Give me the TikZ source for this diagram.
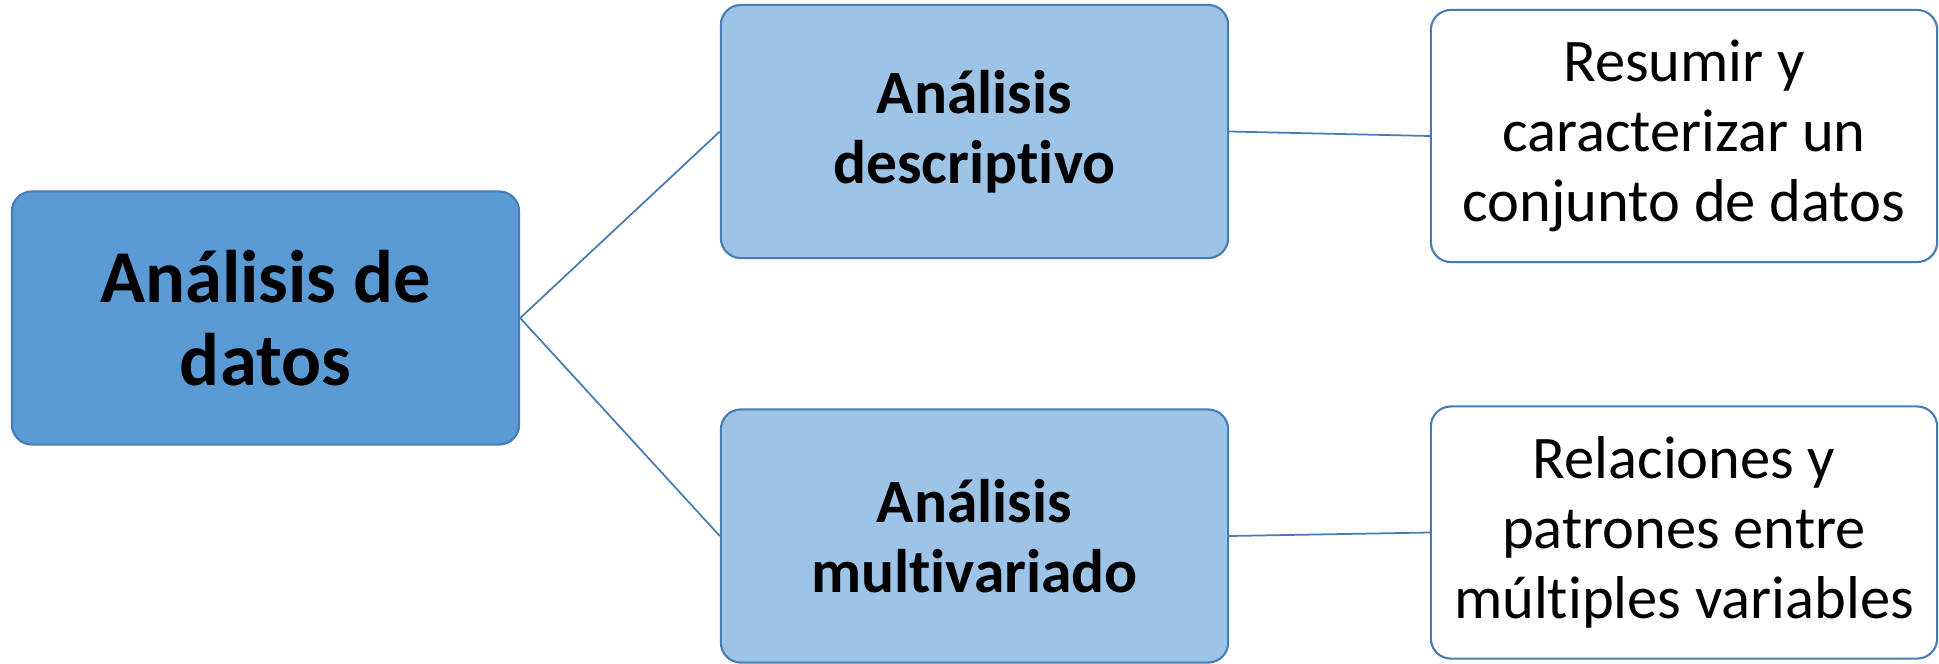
\documentclass[tikz,border=0pt]{standalone}
\usepackage{fontspec}
\setmainfont[Ligatures=NoCommon]{Carlito}
\definecolor{rootblue}{RGB}{91,155,213}
\definecolor{midblue}{RGB}{157,195,230}
\definecolor{edgeblue}{RGB}{72,124,182}
\tikzset{
  box/.style={draw=edgeblue,line width=0.6pt,rounded corners=0.2cm,
    align=center,inner sep=0pt,minimum width=5.07cm,minimum height=2.53cm},
  rootbox/.style={box,fill=rootblue,font=\fontsize{21.2}{23.4}\selectfont\bfseries},
  midbox/.style={box,fill=midblue,font=\fontsize{17.5}{20}\selectfont\bfseries},
  leafbox/.style={box,fill=white,minimum width=5.06cm,minimum height=2.52cm,
    font=\fontsize{17.2}{20}\selectfont},
  link/.style={draw=edgeblue,line width=0.5pt}
}
\begin{document}
\begin{tikzpicture}[x=0.01cm,y=-0.01cm]
  \useasboundingbox (0,0) rectangle (1939,663);
  \def\xroot{265.5}
  \def\xmid{974.5}
  \def\xleaf{1684}
  %
  \node[rootbox] (datos) at (\xroot,318) {Análisis de\\datos};
  %
  \node[midbox] (desc) at (\xmid,131.5) {Análisis\\descriptivo};
  \node[midbox] (multi) at (\xmid,536) {Análisis\\multivariado};
  %
  \node[leafbox] (resumir) at (\xleaf,136) {Resumir y\\caracterizar un\\conjunto de datos};
  \node[leafbox] (relac) at (\xleaf,532.5) {Relaciones y\\patrones entre\\múltiples variables};
  %
  \draw[link] (datos.east) -- (desc.west);
  \draw[link] (datos.east) -- (multi.west);
  \draw[link] (desc.east) -- (resumir.west);
  \draw[link] (multi.east) -- (relac.west);
\end{tikzpicture}
\end{document}
